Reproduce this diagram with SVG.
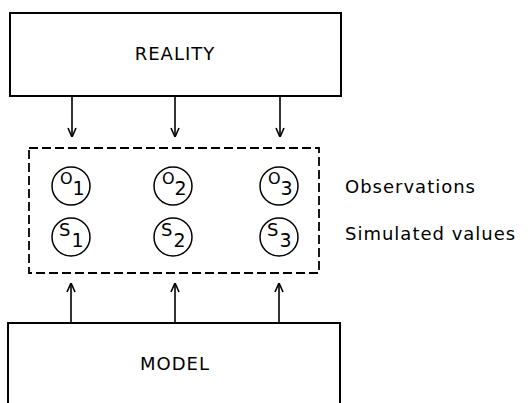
<svg xmlns="http://www.w3.org/2000/svg" width="532" height="403" viewBox="0 0 532 403">
<defs>
<marker id="arr" viewBox="0 0 10 10" refX="10" refY="5" markerWidth="10" markerHeight="10" markerUnits="userSpaceOnUse" orient="auto">
<path d="M1,1 L10,5 L1,9" fill="none" stroke="#000" stroke-width="1.6"/>
</marker>
<style>
.box{fill:#fff;stroke:#000;stroke-width:2}
.dash{fill:none;stroke:#000;stroke-width:1.8;stroke-dasharray:9,4}
.c{fill:none;stroke:#000;stroke-width:1.5}
.t{font-family:"DejaVu Sans","Liberation Sans",sans-serif;fill:#000}
.big{font-size:18px;letter-spacing:1px}
.lbl{font-size:18px;letter-spacing:1px}
.osym{font-size:16px}
.ssym{font-size:18px}
.sub{font-size:19px}
.con{stroke:#000;stroke-width:1.6;fill:none;marker-end:url(#arr)}
</style>
</defs>
<rect width="532" height="403" fill="#fff"/>
<g id="reality">
<rect class="box" x="10" y="13" width="331" height="83"/>
<text class="t big" x="175" y="60" text-anchor="middle">REALITY</text>
</g>
<g id="model">
<rect class="box" x="8" y="323" width="332" height="100"/>
<text class="t big" x="175" y="370" text-anchor="middle">MODEL</text>
</g>
<g id="group">
<rect class="dash" x="29" y="148" width="290" height="125"/>
</g>
<g id="o1"><circle class="c" cx="71" cy="186" r="19"/><text class="t osym" x="60" y="184">O<tspan class="sub" dy="11">1</tspan></text></g>
<g id="o2"><circle class="c" cx="173" cy="186" r="19"/><text class="t osym" x="162" y="184">O<tspan class="sub" dy="11">2</tspan></text></g>
<g id="o3"><circle class="c" cx="279" cy="186" r="19"/><text class="t osym" x="268" y="184">O<tspan class="sub" dy="11">3</tspan></text></g>
<g id="s1"><circle class="c" cx="71" cy="237" r="19"/><text class="t ssym" x="59" y="236">S<tspan class="sub" dx="1" dy="11">1</tspan></text></g>
<g id="s2"><circle class="c" cx="173" cy="237" r="19"/><text class="t ssym" x="161" y="236">S<tspan class="sub" dx="1" dy="11">2</tspan></text></g>
<g id="s3"><circle class="c" cx="279" cy="237" r="19"/><text class="t ssym" x="267" y="236">S<tspan class="sub" dx="1" dy="11">3</tspan></text></g>
<g id="labels">
<text class="t lbl" x="345" y="193">Observations</text>
<text class="t lbl" x="345" y="240">Simulated values</text>
</g>
<g id="connectors">
<line class="con" x1="72" y1="96" x2="72" y2="137"/>
<line class="con" x1="175" y1="96" x2="175" y2="137"/>
<line class="con" x1="280" y1="96" x2="280" y2="137"/>
<line class="con" x1="71" y1="323" x2="71" y2="283"/>
<line class="con" x1="175" y1="323" x2="175" y2="283"/>
<line class="con" x1="279" y1="323" x2="279" y2="283"/>
</g>
</svg>
